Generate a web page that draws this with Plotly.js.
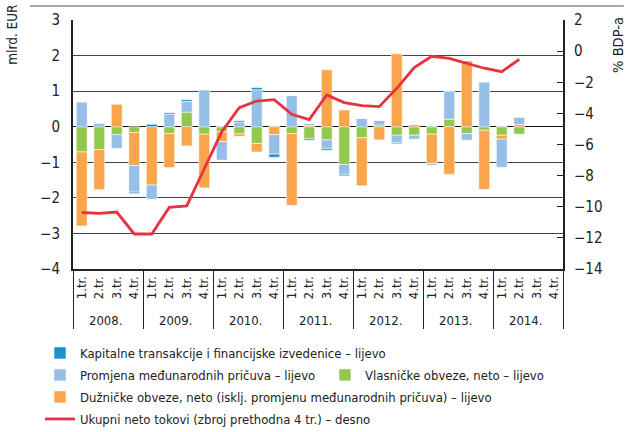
<!DOCTYPE html>
<html>
<head>
<meta charset="utf-8">
<script src="https://cdn.plot.ly/plotly-3.0.1.min.js"></script>
<style>html,body{margin:0;padding:0;background:#fff;}#chart{width:631px;height:432px;}</style>
</head>
<body>
<div id="chart"></div>
<script>
// ---- data ----
const yearLabels = ['2008.', '2009.', '2010.', '2011.', '2012.', '2013.', '2014.'];
const quarterLabels = ['1.tr.', '2.tr.', '3.tr.', '4.tr.'];

// Vlasničke obveze, neto (mlrd. EUR)
const equity = [
  -0.71, -0.64, -0.22, -0.16,
   0.00, -0.19,  0.41, -0.21,
  -0.14, -0.20, -0.47,  0.00,
  -0.19, -0.34, -0.37, -1.06,
  -0.31,  0.05, -0.24, -0.24,
  -0.21,  0.21, -0.19, -0.10,
  -0.24, -0.21, null, null
];
// Dužničke obveze, neto (isklj. promjenu međunarodnih pričuva)
const debt = [
  -2.08, -1.13,  0.64, -0.93,
  -1.64, -0.96, -0.54, -1.51,
  -0.28, -0.07, -0.24, -0.22,
  -2.02,  0.04,  1.60,  0.47,
  -1.35, -0.37,  2.05,  0.06,
  -0.82, -1.34,  1.86, -1.66,
  -0.11,  0.06, null, null
];
// Promjena međunarodnih pričuva
const reserves = [
   0.70,  0.09, -0.39, -0.75,
  -0.40,  0.35,  0.30,  1.04,
  -0.52,  0.13,  1.04, -0.55,
   0.88,  0.05, -0.24, -0.28,
   0.23,  0.13, -0.21, -0.11,
  -0.05,  0.80, -0.19,  1.26,
  -0.79,  0.21, null, null
];
// Kapitalne transakcije i financijske izvedenice
const capital = [
   0.00,  0.01,  0.00, -0.04,
   0.07,  0.04,  0.05,  0.00,
   0.00,  0.04,  0.06, -0.09,
   0.00, -0.04, -0.05, -0.04,
   0.00,  0.00, -0.03,  0.00,
   0.00,  0.00,  0.00,  0.00,
   0.00,  0.00, null, null
];
// Ukupni neto tokovi (zbroj prethodna 4 tr.), % BDP-a
const totalFlows = [
  -10.37, -10.43, -10.34, -11.75,
  -11.75, -10.04,  -9.95,  -7.60,
   -5.18,  -3.63,  -3.21,  -3.12,
   -4.06,  -4.40,  -2.82,  -3.31,
   -3.50,  -3.57,  -2.39,  -1.06,
   -0.33,  -0.46,  -0.78,  -1.10,
   -1.32,  -0.53, null, null
];

// ---- categories ----
const xYear = [], xQuarter = [];
yearLabels.forEach(y => quarterLabels.forEach(q => { xYear.push(y); xQuarter.push(q); }));
const X = [xYear, xQuarter];
const nCat = xYear.length;
const nQ = quarterLabels.length;

const FONT = '"DejaVu Sans Condensed", "Liberation Sans Narrow", sans-serif';
const C = {
  capital: '#1b91d0',
  reserves: '#95bfe7',
  equity: '#93c84f',
  debt: '#f9a54b',
  line: '#e8323f'
};
const barLine = {color: 'rgba(255,255,255,0.7)', width: 0.8};

const traces = [
  {type: 'bar', name: 'Vlasničke obveze, neto – lijevo', x: X, y: equity,
   marker: {color: C.equity, line: barLine}, legend: 'legend3'},
  {type: 'bar', name: 'Dužničke obveze, neto (isklj. promjenu međunarodnih pričuva) – lijevo', x: X, y: debt,
   marker: {color: C.debt, line: barLine}, legend: 'legend4'},
  {type: 'bar', name: 'Promjena međunarodnih pričuva – lijevo', x: X, y: reserves,
   marker: {color: C.reserves, line: barLine}, legend: 'legend2'},
  {type: 'bar', name: 'Kapitalne transakcije i financijske izvedenice – lijevo', x: X, y: capital,
   marker: {color: C.capital, line: barLine}, legend: 'legend'},
  {type: 'scatter', mode: 'lines', name: 'Ukupni neto tokovi (zbroj prethodna 4 tr.) – desno',
   x: X, y: totalFlows, yaxis: 'y2', line: {color: C.line, width: 2.8}, legend: 'legend5'}
];

const shapes = [
  // top rule
  {type: 'line', xref: 'paper', yref: 'paper', x0: -0.088, x1: 1.124, y0: 1.056, y1: 1.056,
   line: {color: '#8a8a8a', width: 1.5}}
];

const legFont = {family: FONT, size: 13, color: '#222'};
function leg(xpx, ypx) {
  return {xref: 'container', yref: 'container', x: xpx / 631, y: 1 - ypx / 432,
    xanchor: 'left', yanchor: 'middle', orientation: 'v', font: legFont,
    bgcolor: 'rgba(0,0,0,0)', borderwidth: 0, itemclick: false, itemdoubleclick: false};
}

const layout = {
  width: 631, height: 432,
  margin: {l: 73, r: 68, t: 20, b: 163, autoexpand: false},
  paper_bgcolor: '#fff', plot_bgcolor: '#fff',
  font: {family: FONT, size: 14, color: '#222'},
  barmode: 'relative', bargap: 0.38,
  showlegend: true,
  legend: leg(40, 353),
  legend2: leg(40, 375),
  legend3: leg(325, 375),
  legend4: leg(40, 397),
  legend5: leg(40, 419),
  xaxis: {type: 'multicategory', showline: true, linecolor: '#222', linewidth: 2,
    tickangle: -90, tickfont: {family: FONT, size: 13, color: '#222'},
    showdividers: true, dividercolor: '#222', dividerwidth: 1, ticks: '', showgrid: false},
  // helper axis for the year boundary grid lines
  xaxis2: {overlaying: 'x', anchor: 'y', range: [-0.5, nCat - 0.5], tick0: nQ - 0.5, dtick: nQ,
    showgrid: true, gridcolor: '#222', gridwidth: 1, showticklabels: false, ticks: '',
    zeroline: false, showline: false, layer: 'below traces'},
  yaxis: {range: [-4, 3], dtick: 1, showgrid: true, gridcolor: '#444', gridwidth: 1,
    zeroline: true, zerolinecolor: '#111', zerolinewidth: 1,
    showline: true, linecolor: '#222', linewidth: 2, ticks: '', ticklabelstandoff: 8,
    tickfont: {family: FONT, size: 15, color: '#222'}},
  yaxis2: {overlaying: 'y', side: 'right', range: [-14, 2], dtick: 2, showgrid: false, zeroline: false,
    showline: true, linecolor: '#222', linewidth: 2, ticks: 'inside', ticklen: 6, tickcolor: '#222',
    ticklabelstandoff: 6, tickfont: {family: FONT, size: 15, color: '#222'}},
  shapes: shapes,
  annotations: [
    {xref: 'paper', yref: 'paper', x: -0.126, y: 1.072, xanchor: 'center', yanchor: 'top',
     text: 'mlrd. EUR', textangle: -90, showarrow: false, font: {family: FONT, size: 13.5, color: '#222'}},
    {xref: 'paper', yref: 'paper', x: 1.112, y: 1.02, xanchor: 'center', yanchor: 'top',
     text: '% BDP-a', textangle: -90, showarrow: false, font: {family: FONT, size: 14.5, color: '#222'}}
  ]
};

Plotly.newPlot('chart', traces, layout, {displayModeBar: false, staticPlot: true});
</script>
</body>
</html>
